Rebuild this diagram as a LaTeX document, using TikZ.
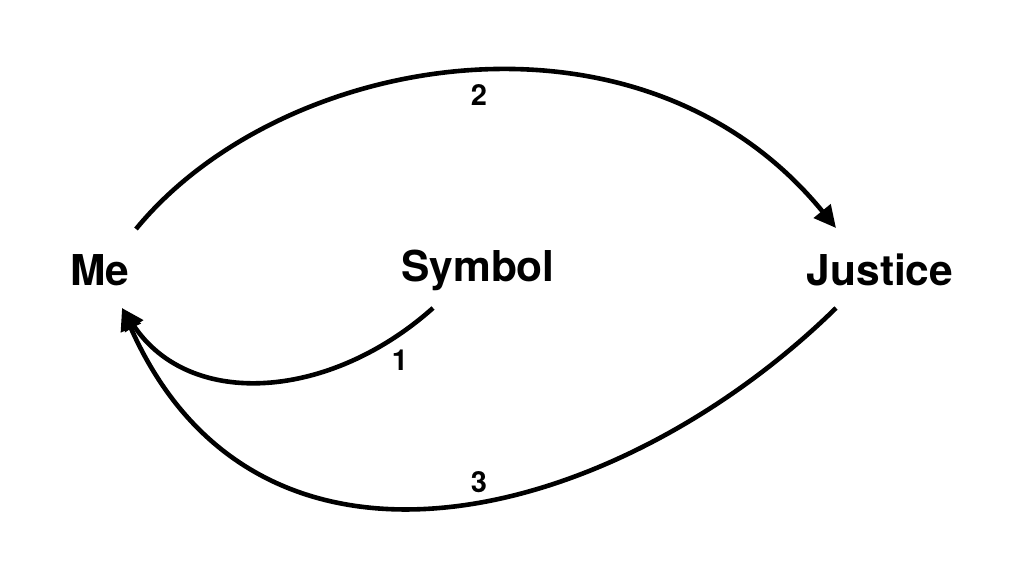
\documentclass[tikz,border=0pt]{standalone}
\usepackage{fontspec}
\setmainfont{TeX Gyre Heros}
\usetikzlibrary{arrows.meta}
\begin{document}
\begin{tikzpicture}[x=1pt,y=-1pt,
  lbl/.style={font=\fontsize{42.5}{42.5}\selectfont\bfseries, inner sep=0pt},
  num/.style={font=\fontsize{29}{29}\selectfont\bfseries, inner sep=0pt},
  conn/.style={line width=4.6pt, -{Triangle[length=22pt,width=21pt]}}]
\useasboundingbox (0,0) rectangle (1024,576);
\node[lbl] (me) at (100,270) {Me};
\node[lbl] (sym) at (478,270) {Symbol};
\node[lbl] (jus) at (880,270) {Justice};
\coordinate (meA) at (136,229);
\coordinate (meB) at (122,308);
\coordinate (symA) at (433,308);
\coordinate (jusA) at (836,228);
\coordinate (jusB) at (836,308);
\draw[conn] (meA) .. controls (280,53) and (640,-12) .. (jusA);
\draw[conn] (symA) .. controls (330,400) and (190,410) .. (meB);
\draw[conn] (jusB) .. controls (620,520) and (260,620) .. (meB);
\node[num] (n2) at (479,95) {2};
\node[num] (n1) at (400,360) {1};
\node[num] (n3) at (479,482) {3};
\end{tikzpicture}
\end{document}
